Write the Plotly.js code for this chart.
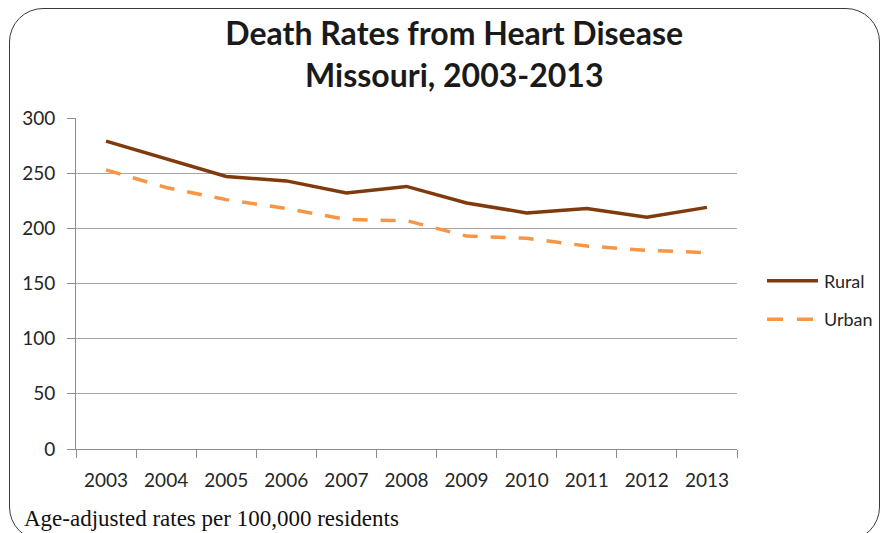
<!DOCTYPE html>
<html>
<head>
<meta charset="utf-8">
<script src="https://cdn.plot.ly/plotly-3.0.1.min.js"></script>
<style>
html,body{margin:0;padding:0;background:#fff;}
#wrap{position:relative;width:882px;height:533px;overflow:hidden;}
#frame{position:absolute;left:9px;top:8px;width:871px;height:533px;border:1px solid #3a3a3a;border-radius:34px;box-sizing:border-box;pointer-events:none;}
#chart{position:absolute;left:0;top:0;width:882px;height:533px;}
</style>
</head>
<body>
<div id="wrap">
<div id="chart"></div>
<div id="frame"></div>
</div>
<script>
const years = ['2003','2004','2005','2006','2007','2008','2009','2010','2011','2012','2013'];
const rural = [279, 263, 247, 243, 232, 238, 223, 214, 218, 210, 219];
const urban = [253, 237, 226, 218, 208, 207, 193, 191, 184, 180, 178];
const yTicks = [0, 50, 100, 150, 200, 250, 300];
const seriesNames = ['Rural', 'Urban'];
const seriesColors = ['#7F3A0E', '#F79646'];

const traces = [
  {x: years, y: rural, name: seriesNames[0], type: 'scatter', mode: 'lines',
   line: {color: seriesColors[0], width: 3.5}},
  {x: years, y: urban, name: seriesNames[1], type: 'scatter', mode: 'lines',
   line: {color: seriesColors[1], width: 3.5, dash: '15px,13px'}}
];

// legend drawn as samples + labels to the right of the plot area
const legY = [0.5085, 0.392];
const shapes = [
  {type: 'line', xref: 'paper', yref: 'paper', x0: 1.0454, x1: 1.1225, y0: legY[0], y1: legY[0],
   line: {color: seriesColors[0], width: 3.5}},
  {type: 'line', xref: 'paper', yref: 'paper', x0: 1.0454, x1: 1.1225, y0: legY[1], y1: legY[1],
   line: {color: seriesColors[1], width: 3.5, dash: '16px,14px'}}
];
const legendLabels = seriesNames.map((n, i) => ({
  text: n, xref: 'paper', yref: 'paper', x: 1.129, xanchor: 'left', y: legY[i], yanchor: 'middle',
  showarrow: false, font: {size: 18, color: '#262626', family: 'Lato, sans-serif'}
}));

const layout = {
  width: 882, height: 533,
  margin: {l: 76, r: 145, t: 118, b: 84},
  paper_bgcolor: 'rgba(0,0,0,0)', plot_bgcolor: '#fff',
  font: {family: 'Lato, sans-serif', color: '#262626'},
  title: {text: '<b>Death Rates from Heart Disease<br>Missouri, 2003-2013</b>',
          x: 0.515, xanchor: 'center', y: 0.915, yanchor: 'top',
          font: {size: 32, color: '#1a1a1a', family: 'Lato, sans-serif'}},
  xaxis: {type: 'category', tickvals: years, ticktext: years,
          tickson: 'boundaries', ticks: 'outside', ticklen: 8, tickcolor: '#8c8c8c',
          showline: true, linecolor: '#8c8c8c', linewidth: 1, showgrid: false,
          tickfont: {size: 19, color: '#262626'}, ticklabelstandoff: 14,
          range: [-0.5, 10.5], fixedrange: true},
  yaxis: {range: [0, 300], tickvals: yTicks, ticks: 'outside', ticklen: 8,
          tickcolor: '#8c8c8c', showline: true, linecolor: '#8c8c8c', linewidth: 1,
          showgrid: true, gridcolor: '#a6a6a6', gridwidth: 1, zeroline: false,
          tickfont: {size: 19, color: '#262626'}, ticklabelstandoff: 8, fixedrange: true},
  showlegend: false,
  shapes: shapes,
  annotations: legendLabels.concat([{text: 'Age-adjusted rates per 100,000 residents', xref: 'paper', yref: 'paper',
                 x: -0.082, xanchor: 'left', y: -0.211, yanchor: 'middle', showarrow: false,
                 font: {family: 'Liberation Serif, serif', size: 23, color: '#111'}}])
};

Plotly.newPlot('chart', traces, layout, {staticPlot: true, displayModeBar: false});
</script>
</body>
</html>
